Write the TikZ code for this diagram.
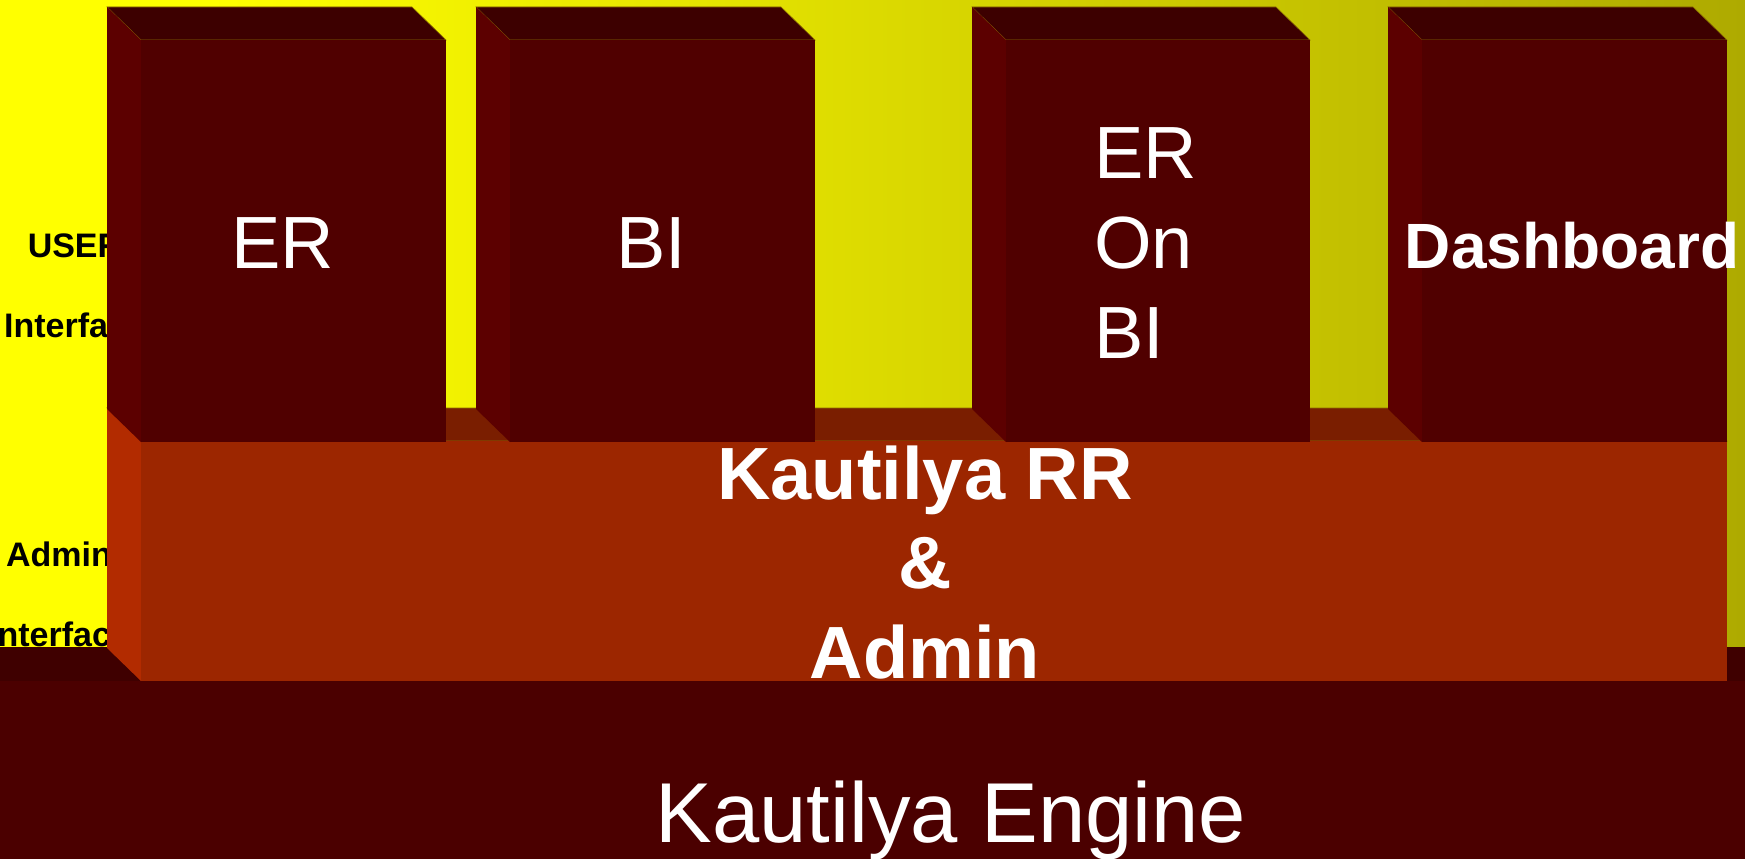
\documentclass[tikz,border=0pt]{standalone}
\usepackage{fontspec}
\setmainfont{Liberation Sans}

\definecolor{wallleft}{RGB}{255,255,0}
\definecolor{wallright}{RGB}{174,170,0}
\definecolor{boxfront}{RGB}{80,0,0}
\definecolor{boxtop}{RGB}{61,0,0}
\definecolor{boxside}{RGB}{92,0,0}
\definecolor{rrfront}{RGB}{156,38,0}
\definecolor{rrtop}{RGB}{122,30,0}
\definecolor{rrside}{RGB}{178,43,0}
\definecolor{enginefront}{RGB}{75,0,0}
\definecolor{enginetop}{RGB}{63,0,0}
\definecolor{rim}{RGB}{140,110,0}

% the path is fitted to the middle 25bp--75bp
\pgfdeclarehorizontalshading{wall}{100bp}{color(0bp)=(wallleft); color(31bp)=(wallleft); color(75bp)=(wallright); color(100bp)=(wallright)}

% front face left/right x, top/bottom y, colour prefix
\newcommand{\block}[5]{%
  \filldraw[fill=#5top,draw=rim,line width=0.6pt]
    (#1-34,#3-33) -- (#2-34,#3-33) -- (#2,#3) -- (#1,#3) -- cycle;
  \fill[#5side] (#1-34,#3-33) -- (#1,#3) -- (#1,#4) -- (#1-34,#4-33) -- cycle;
  \fill[#5front] (#1,#3) rectangle (#2,#4);
}

\tikzset{
  sidelabel/.style={font=\bfseries\fontsize{34}{80}\selectfont,align=center,anchor=base,inner sep=0pt},
  boxlabel/.style={text=white,font=\fontsize{74}{90}\selectfont,anchor=base,inner sep=0pt},
  boldlabel/.style={text=white,font=\bfseries\fontsize{74}{89.5}\selectfont,align=center,anchor=base,inner sep=0pt}
}

\begin{document}
\begin{tikzpicture}[x=1pt,y=-1pt]
    \useasboundingbox (0,0) rectangle (1745,859);

    % back wall
    \shade[shading=wall] (0,0) rectangle (1745,647);

    % multi-line nodes sit on their last baseline
    \node [sidelabel] (user) at (75,337) {USER\\Interface};
    \node [sidelabel] (admin) at (59,646) {Admin\\Interface};

    % engine
    \fill[enginetop] (0,647) rectangle (1745,681);
    \fill[enginefront] (0,681) rectangle (1745,859);

    % RR and admin layer
    \block{141}{1727}{441}{681}{rr}

    % user interface blocks
    \block{141}{446}{40}{442}{box}
    \block{510}{815}{40}{442}{box}
    \block{1006}{1310}{40}{442}{box}
    \block{1422}{1727}{40}{442}{box}

    \node [boxlabel] (er) at (283,268) {ER};
    \node [boxlabel] (bi) at (651,268) {BI};
    \node [boxlabel,align=left,anchor=base west] (erbi) at (1094,358) {ER\\On\\BI};
    \node [boxlabel,font=\bfseries\fontsize{64}{77}\selectfont] (dash) at (1572,268) {Dashboard};

    \node [boldlabel] (rr) at (925,678) {Kautilya RR\\\&\\Admin};
    \node [boxlabel,font=\fontsize{85}{100}\selectfont] (engine) at (951,842) {Kautilya Engine};
\end{tikzpicture}
\end{document}
